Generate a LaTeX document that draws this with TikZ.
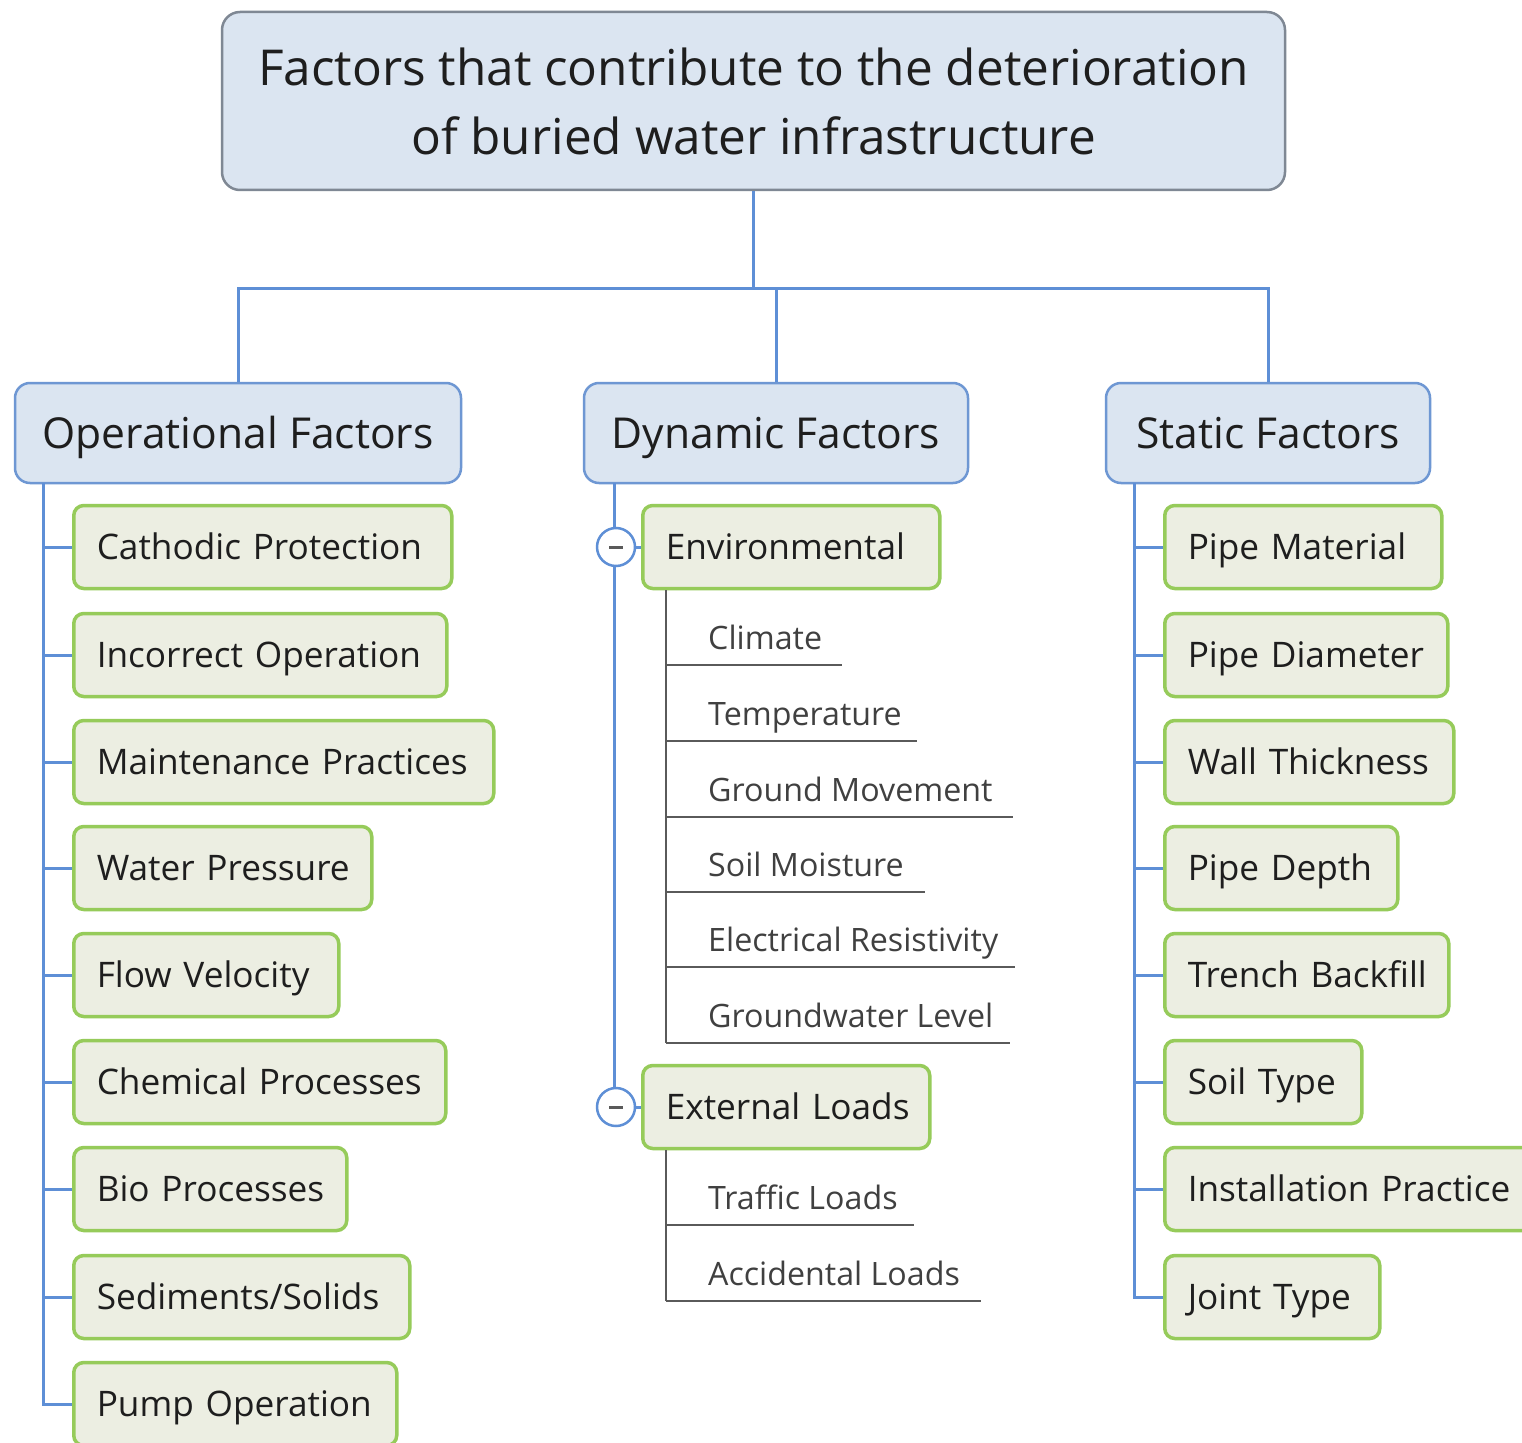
\documentclass[tikz,border=0pt]{standalone}
\usepackage{fontspec}
\setmainfont{Open Sans}
\usetikzlibrary{calc}
\definecolor{rootfill}{HTML}{DBE5F1}
\definecolor{rootdraw}{HTML}{7F8894}
\definecolor{catdraw}{HTML}{6E97D3}
\definecolor{connc}{HTML}{5E8FD6}
\definecolor{gfill}{HTML}{ECEEE2}
\definecolor{gdraw}{HTML}{96CB5A}
\definecolor{sublc}{HTML}{5A5A5A}
\definecolor{subtc}{HTML}{404040}
\definecolor{txtc}{HTML}{1E1E1E}
\newcommand\rootfnt{\fontsize{49.5}{69}\selectfont}
\newcommand\catfnt{\fontsize{42.6}{50}\selectfont}
\newcommand\itemfnt{\fontsize{35.2}{40}\selectfont}
\newcommand\subfnt{\fontsize{32.2}{36}\selectfont}
\tikzset{
  rootbox/.style={draw=rootdraw, line width=2.5pt, fill=rootfill, rounded corners=18pt,
    minimum width=1063pt, minimum height=178pt, align=center, font=\rootfnt, text=txtc},
  catbox/.style={draw=catdraw, line width=2.5pt, fill=rootfill, rounded corners=15pt,
    minimum width=#1, minimum height=100pt, font=\catfnt, text=txtc,
    text height=32pt, text depth=1pt},
  gbox/.style={draw=gdraw, line width=3.5pt, fill=gfill, rounded corners=10pt,
    anchor=west, minimum height=83pt, inner xsep=23pt, text width=#1, align=left,
    font=\itemfnt, text=txtc, text height=26pt, text depth=1pt,
    execute at begin node={\leavevmode\hbox\bgroup}, execute at end node={\egroup}},
  subitem/.style={anchor=base west, inner sep=0pt, font=\subfnt, text=subtc},
  conn/.style={draw=connc, line width=3pt},
  subl/.style={draw=sublc, line width=2pt},
  toggle/.style={circle, draw=connc, line width=2.5pt, fill=white, minimum size=38pt, inner sep=0pt},
}
\begin{document}
\begin{tikzpicture}[x=1pt,y=-1pt]
\useasboundingbox (0,0) rectangle (1522,1442);
\fill[white] (0,0) rectangle (1522,1442);

% root
\node[rootbox] (root) at (753.5,101) {Factors that contribute to the deterioration\\of buried water infrastructure};

% categories
\node[catbox=446pt] (op) at (238,433) {Operational Factors};
\node[catbox=384pt] (dyn) at (776,433) {Dynamic Factors};
\node[catbox=324pt] (st) at (1268,433) {Static Factors};

\coordinate (bus) at (753.5,288);
\draw[conn] (root.south) -- (bus);
\draw[conn] (bus) -| (op.north);
\draw[conn] (bus) -| (dyn.north);
\draw[conn] (bus) -| (st.north);

% operational children
\node[gbox=332pt] (o1) at (72,547) {Cathodic Protection};
\node[gbox=327pt] (o2) at (72,655) {Incorrect Operation};
\node[gbox=374pt] (o3) at (72,762) {Maintenance Practices};
\node[gbox=252pt] (o4) at (72,868) {Water Pressure};
\node[gbox=219pt] (o5) at (72,975) {Flow Velocity};
\node[gbox=326pt] (o6) at (72,1082) {Chemical Processes};
\node[gbox=227pt] (o7) at (72,1189) {Bio Processes};
\node[gbox=290pt] (o8) at (72,1297) {Sediments/Solids};
\node[gbox=277pt] (o9) at (72,1404) {Pump Operation};
\coordinate (opsp) at (43,483);
\draw[conn] (opsp) |- (o9.west);
\foreach \i in {1,...,8} { \draw[conn] (opsp |- o\i.west) -- (o\i.west); }

% static children
\node[gbox=231pt] (s1) at (1163,547) {Pipe Material};
\node[gbox=237pt] (s2) at (1163,655) {Pipe Diameter};
\node[gbox=243pt] (s3) at (1163,762) {Wall Thickness};
\node[gbox=187pt] (s4) at (1163,868) {Pipe Depth};
\node[gbox=238pt] (s5) at (1163,975) {Trench Backfill};
\node[gbox=151pt] (s6) at (1163,1082) {Soil Type};
\node[gbox=344pt] (s7) at (1163,1189) {Installation Practice};
\node[gbox=169pt] (s8) at (1163,1297) {Joint Type};
\coordinate (stsp) at (1134,483);
\draw[conn] (stsp) |- (s8.west);
\foreach \i in {1,...,7} { \draw[conn] (stsp |- s\i.west) -- (s\i.west); }

% dynamic children
\node[gbox=251pt] (env) at (641,547) {Environmental};
\node[gbox=241pt] (ext) at (641,1107) {External Loads};
\coordinate (dsp) at (614,483);
\node[toggle] (ca) at (616,547) {};
\node[toggle] (cb) at (616,1107) {};
\draw[conn] (dsp) -- (dsp |- ca.north);
\draw[conn] (dsp |- ca.south) -- (dsp |- cb.north);
\draw[conn] (ca.east) -- (env.west);
\draw[conn] (cb.east) -- (ext.west);
\draw[sublc, line width=3pt] ($(ca.center)+(-7,0)$) -- ($(ca.center)+(7,0)$);
\draw[sublc, line width=3pt] ($(cb.center)+(-7,0)$) -- ($(cb.center)+(7,0)$);

% environmental sub-items
\coordinate (esp) at ($(env.south west)+(25,0)$);
\coordinate (u1) at (842,665);
\coordinate (u2) at (917,741);
\coordinate (u3) at (1013,817);
\coordinate (u4) at (925,892);
\coordinate (u5) at (1015,967);
\coordinate (u6) at (1010,1043);
\node[subitem] (e1) at (708,649) {Climate};
\node[subitem] (e2) at (708,725) {Temperature};
\node[subitem] (e3) at (708,801) {Ground Movement};
\node[subitem] (e4) at (708,876) {Soil Moisture};
\node[subitem] (e5) at (708,951) {Electrical Resistivity};
\node[subitem] (e6) at (708,1027) {Groundwater Level};
\draw[subl] (esp) -- (esp |- u6);
\foreach \i in {1,...,6} { \draw[subl] (esp |- u\i) -- (u\i); }

% external loads sub-items
\coordinate (xsp) at ($(ext.south west)+(25,0)$);
\coordinate (v1) at (914,1225);
\coordinate (v2) at (981,1301);
\node[subitem] (x1) at (708,1209) {Traffic Loads};
\node[subitem] (x2) at (708,1285) {Accidental Loads};
\draw[subl] (xsp) -- (xsp |- v2);
\foreach \i in {1,2} { \draw[subl] (xsp |- v\i) -- (v\i); }
\end{tikzpicture}
\end{document}
